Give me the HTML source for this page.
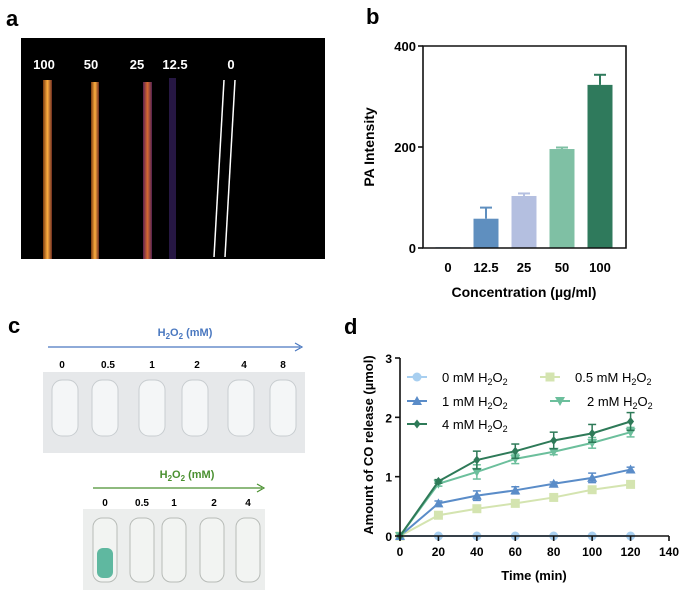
<!DOCTYPE html>
<html><head><meta charset="utf-8"><style>
body{margin:0;background:#fff;width:685px;height:592px;overflow:hidden;font-family:"Liberation Sans",Arial,sans-serif}
svg{position:absolute;left:0;top:0}
text{font-family:"Liberation Sans",Arial,sans-serif}
</style></head><body>
<svg width="685" height="592" viewBox="0 0 685 592">
<defs>
<linearGradient id="tg" x1="0" x2="1"><stop offset="0" stop-color="#7a3a10"/><stop offset="0.5" stop-color="#ffb040"/><stop offset="1" stop-color="#6a2a20"/></linearGradient>
<linearGradient id="tg2" x1="0" x2="1"><stop offset="0" stop-color="#5a2050"/><stop offset="0.5" stop-color="#d86a30"/><stop offset="1" stop-color="#502050"/></linearGradient>
</defs>
<!-- panel a -->
<g>
<text x="6" y="26" font-size="22" font-weight="bold">a</text>
<rect x="21" y="38" width="304" height="221" fill="#000"/>
<g fill="#fff" font-size="13" font-weight="bold" text-anchor="middle">
<text x="44" y="69">100</text><text x="91" y="69">50</text><text x="137" y="69">25</text><text x="175" y="69">12.5</text><text x="231" y="69">0</text></g>
<rect x="43" y="80" width="9" height="179" fill="url(#tg)"/>
<rect x="91" y="82" width="8" height="177" fill="url(#tg)"/>
<rect x="143" y="82" width="9" height="177" fill="url(#tg2)"/>
<rect x="169" y="78" width="7" height="181" fill="#2a1a4a" opacity="0.9"/>
<line x1="224" y1="80" x2="214" y2="257" stroke="#fff" stroke-width="1.5"/>
<line x1="235" y1="80" x2="225" y2="257" stroke="#fff" stroke-width="1.5"/>
</g>
<!-- panel b -->
<text x="366" y="24" font-size="22" font-weight="bold">b</text>
<g id="chartB"></g>
<!-- panel c -->
<g>
<text x="8" y="333" font-size="22" font-weight="bold">c</text>
<text x="185" y="336" font-size="11" font-weight="bold" fill="#4a78c0" text-anchor="middle">H<tspan font-size="8" dy="3">2</tspan><tspan dy="-3">O</tspan><tspan font-size="8" dy="3">2</tspan><tspan dy="-3"> (mM)</tspan></text>
<line x1="48" y1="347" x2="300" y2="347" stroke="#4a78c0" stroke-width="1.2"/>
<path d="M295 343 L302 347 L295 351" fill="none" stroke="#4a78c0" stroke-width="1.2"/>
<g font-size="10" font-weight="bold" text-anchor="middle"><text x="62" y="368">0</text><text x="108" y="368">0.5</text><text x="152" y="368">1</text><text x="197" y="368">2</text><text x="244" y="368">4</text><text x="283" y="368">8</text></g>
<rect x="43" y="372" width="262" height="81" fill="#e6e8ea"/>
<g fill="#f4f6f7" stroke="#c8cdd0" stroke-width="1">
<rect x="52" y="380" width="26" height="56" rx="10"/><rect x="92" y="380" width="26" height="56" rx="10"/><rect x="139" y="380" width="26" height="56" rx="10"/><rect x="182" y="380" width="26" height="56" rx="10"/><rect x="228" y="380" width="26" height="56" rx="10"/><rect x="270" y="380" width="26" height="56" rx="10"/></g>
<text x="187" y="478" font-size="11" font-weight="bold" fill="#4a9030" text-anchor="middle">H<tspan font-size="8" dy="3">2</tspan><tspan dy="-3">O</tspan><tspan font-size="8" dy="3">2</tspan><tspan dy="-3"> (mM)</tspan></text>
<line x1="93" y1="488" x2="262" y2="488" stroke="#4a9030" stroke-width="1.2"/>
<path d="M257 484 L264 488 L257 492" fill="none" stroke="#4a9030" stroke-width="1.2"/>
<g font-size="10" font-weight="bold" text-anchor="middle"><text x="105" y="506">0</text><text x="142" y="506">0.5</text><text x="174" y="506">1</text><text x="214" y="506">2</text><text x="248" y="506">4</text></g>
<rect x="83" y="509" width="182" height="81" fill="#eceeed"/>
<g fill="#f2f4f2" stroke="#b8bcb8" stroke-width="1">
<rect x="93" y="518" width="24" height="64" rx="9"/><rect x="130" y="518" width="24" height="64" rx="9"/><rect x="162" y="518" width="24" height="64" rx="9"/><rect x="200" y="518" width="24" height="64" rx="9"/><rect x="236" y="518" width="24" height="64" rx="9"/></g>
<rect x="97" y="548" width="16" height="30" rx="6" fill="#5fb8a0"/>
</g>
<!-- panel d -->
<text x="344" y="334" font-size="22" font-weight="bold">d</text>
<g id="chartD"></g>
</svg>
<script>
const NS="http://www.w3.org/2000/svg";
function mk(p,t,a){const e=document.createElementNS(NS,t);for(const k in a)e.setAttribute(k,a[k]);p.appendChild(e);return e;}
// ---- chart B data
const bCats=["0","12.5","25","50","100"];
const bVals=[2,58,103,196,323];
const bErr=[1,22,5,3,20];
const bColors=["#b8d4ee","#5f8fbf","#b4bfe0","#7fc0a4","#2f7a5c"];
const bTicks=[0,200,400];
(function(){
const g=document.getElementById("chartB");
const x0=423,x1=626,yB=248,yT=46;
const ys=v=>yB-(v/400)*(yB-yT);
const xs=i=>448+i*38;
bVals.forEach((v,i)=>{
 const r=mk(g,"rect",{x:xs(i)-12.5,y:ys(v),width:25,height:yB-ys(v),fill:bColors[i]});
 
 
 if(bErr[i]>1){mk(g,"line",{x1:xs(i),x2:xs(i),y1:ys(v),y2:ys(v+bErr[i]),stroke:bColors[i],"stroke-width":2});
 mk(g,"line",{x1:xs(i)-6,x2:xs(i)+6,y1:ys(v+bErr[i]),y2:ys(v+bErr[i]),stroke:bColors[i],"stroke-width":2});}
 const t=mk(g,"text",{x:xs(i),y:272,"font-size":13,"font-weight":"bold","text-anchor":"middle"});t.textContent=bCats[i];
 
 
});
mk(g,"path",{d:`M${x0} ${yT} L${x0} ${yB} L${x1} ${yB} L${x1} ${yT} Z`,fill:"none",stroke:"#111","stroke-width":1.6});
bTicks.forEach(v=>{mk(g,"line",{x1:x0-5,x2:x0,y1:ys(v),y2:ys(v),stroke:"#111","stroke-width":1.6});
 const t=mk(g,"text",{x:x0-7,y:ys(v)+5,"font-size":13,"font-weight":"bold","text-anchor":"end"});t.textContent=v;
 
 });
const yl=mk(g,"text",{transform:`translate(374,147) rotate(-90)`,"font-size":14,"font-weight":"bold","text-anchor":"middle"});yl.textContent="PA Intensity";


const xl=mk(g,"text",{x:524,y:297,"font-size":14,"font-weight":"bold","text-anchor":"middle"});xl.textContent="Concentration (\u00b5g/ml)";


})();
// ---- chart D data
const dTimes=[0,20,40,60,80,100,120];
const s0=[0,0,0,0,0,0,0];
const s05=[0,0.35,0.46,0.55,0.65,0.78,0.87];
const s1=[0,0.55,0.68,0.77,0.88,0.98,1.12];
const s2=[0,0.88,1.08,1.30,1.42,1.57,1.75];
const s4=[0,0.92,1.28,1.43,1.61,1.73,1.93];
const e05=[0,0.03,0.04,0.04,0.03,0.05,0.05];
const e1=[0,0.04,0.08,0.06,0.03,0.08,0.04];
const e2=[0,0.04,0.12,0.08,0.05,0.09,0.08];
const e4=[0,0.03,0.15,0.12,0.14,0.15,0.15];
const dXTicks=[0,20,40,60,80,100,120,140];
const dYTicks=[0,1,2,3];
(function(){
const g=document.getElementById("chartD");
const x0=400,x1=669,yB=536,yT=358;
const xs=v=>x0+v/140*(x1-x0), ys=v=>yB-v/3*(yB-yT);
const series=[
 {n:"0 mM",v:s0,e:null,c:"#a8cff0",m:"circle"},
 {n:"0.5 mM",v:s05,e:e05,c:"#d4e4b0",m:"square"},
 {n:"1 mM",v:s1,e:e1,c:"#5a8cc8",m:"tri"},
 {n:"2 mM",v:s2,e:e2,c:"#6cbf9c",m:"tridown"},
 {n:"4 mM",v:s4,e:e4,c:"#2e7a58",m:"diamond"}];
function marker(p,m,x,y,c){
 if(m=="circle")return mk(p,"circle",{cx:x,cy:y,r:4.5,fill:c});
 if(m=="square")return mk(p,"rect",{x:x-4.5,y:y-4.5,width:9,height:9,fill:c});
 if(m=="tri")return mk(p,"path",{d:`M${x} ${y-5} L${x+5} ${y+4} L${x-5} ${y+4}Z`,fill:c});
 if(m=="tridown")return mk(p,"path",{d:`M${x} ${y+5} L${x+5} ${y-4} L${x-5} ${y-4}Z`,fill:c});
 return mk(p,"path",{d:`M${x} ${y-4.5} L${x+3.5} ${y} L${x} ${y+4.5} L${x-3.5} ${y}Z`,fill:c});
}
series.forEach(s=>{
 const sg=mk(g,"g",{});
 
 
 mk(sg,"polyline",{points:dTimes.map((t,i)=>xs(t)+","+ys(s.v[i])).join(" "),fill:"none",stroke:s.c,"stroke-width":2});
 dTimes.forEach((t,i)=>{
  if(s.e&&s.e[i]>0){const x=xs(t);mk(sg,"line",{x1:x,x2:x,y1:ys(s.v[i]-s.e[i]),y2:ys(s.v[i]+s.e[i]),stroke:s.c,"stroke-width":1.5});
   [s.v[i]-s.e[i],s.v[i]+s.e[i]].forEach(v=>mk(sg,"line",{x1:x-4,x2:x+4,y1:ys(v),y2:ys(v),stroke:s.c,"stroke-width":1.5}));}
  const mm=marker(sg,s.m,xs(t),ys(s.v[i]),s.c);
  
  
 });
});
mk(g,"path",{d:`M${x0} ${yT} L${x0} ${yB} L${x1} ${yB}`,fill:"none",stroke:"#111","stroke-width":1.6});
dXTicks.forEach(v=>{mk(g,"line",{x1:xs(v),x2:xs(v),y1:yB,y2:yB+5,stroke:"#111","stroke-width":1.6});
 const t=mk(g,"text",{x:xs(v),y:yB+20,"font-size":12,"font-weight":"bold","text-anchor":"middle"});t.textContent=v;
 
 });
dYTicks.forEach(v=>{mk(g,"line",{x1:x0-5,x2:x0,y1:ys(v),y2:ys(v),stroke:"#111","stroke-width":1.6});
 const t=mk(g,"text",{x:x0-8,y:ys(v)+5,"font-size":12,"font-weight":"bold","text-anchor":"end"});t.textContent=v;
 
 });
const yl=mk(g,"text",{transform:`translate(373,445) rotate(-90)`,"font-size":13,"font-weight":"bold","text-anchor":"middle"});yl.textContent="Amount of CO release (\u00b5mol)";


const xl=mk(g,"text",{x:534,y:580,"font-size":13,"font-weight":"bold","text-anchor":"middle"});xl.textContent="Time (min)";


// legend
const leg=[[0,415,377,442],[1,548,377,575],[2,415,401,442],[3,558,401,587],[4,415,424,442]];
leg.forEach(([k,mx,my,tx])=>{const s=series[k];
 const lg=mk(g,"g",{});
 
 
 mk(lg,"line",{x1:mx-8,x2:mx+12,y1:my,y2:my,stroke:s.c,"stroke-width":2});
 marker(lg,s.m,mx+2,my,s.c);
 const t=mk(lg,"text",{x:tx,y:my+5,"font-size":13});
 t.innerHTML=s.n+' H<tspan font-size="9" dy="3">2</tspan><tspan dy="-3">O</tspan><tspan font-size="9" dy="3">2</tspan>';
});
})();
</script>
</body></html>
